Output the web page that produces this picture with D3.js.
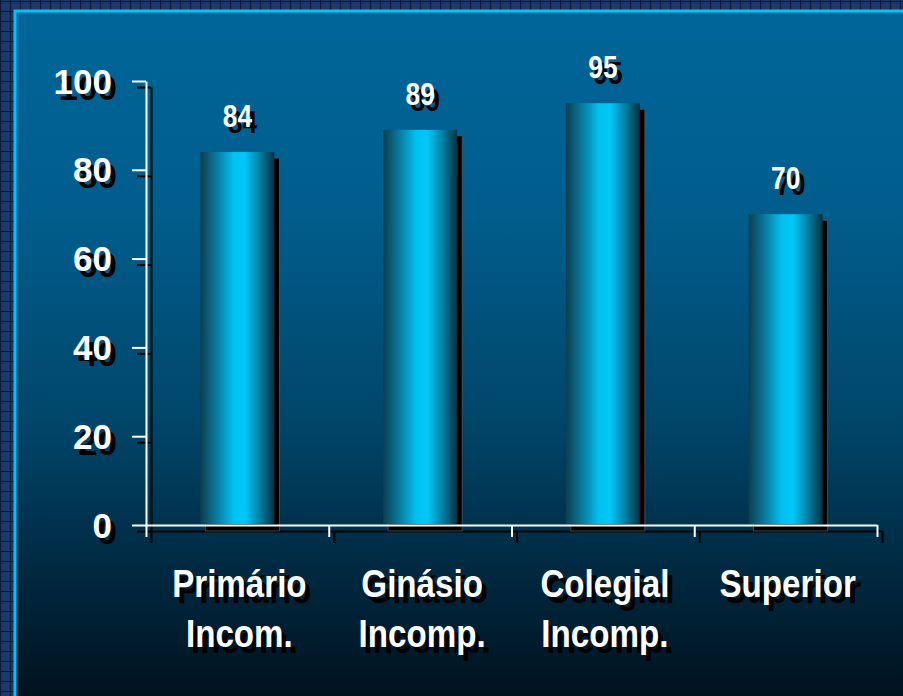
<!DOCTYPE html>
<html><head><meta charset="utf-8">
<script src="https://cdn.jsdelivr.net/npm/d3@7"></script>
<style>html,body{margin:0;padding:0;background:#0c1d3c;}svg{display:block;}</style>
</head><body>
<script>
const categories = [["Primário","Incom."],["Ginásio","Incomp."],["Colegial","Incomp."],["Superior"]];
const values = [84, 89, 95, 70];
const yTicks = [0, 20, 40, 60, 80, 100];

const W = 903, H = 696;
const svg = d3.select("body").append("svg").attr("width", W).attr("height", H);
const defs = svg.append("defs");

const pat = defs.append("pattern").attr("id","grid").attr("width",10).attr("height",10)
  .attr("patternUnits","userSpaceOnUse").attr("x",0).attr("y",1);
pat.append("rect").attr("width",10).attr("height",10).attr("fill","#1b3a6b");
pat.append("path").attr("d","M0,0.5H10M0.5,0V10").attr("stroke","#0a1733").attr("stroke-width",1.2);

const bg = defs.append("linearGradient").attr("id","bg").attr("x1",0).attr("y1",0).attr("x2",0).attr("y2",1);
[[0,"#00669a"],[0.3,"#005d8c"],[0.6,"#00466a"],[0.8,"#002b44"],[1,"#00121e"]]
  .forEach(([o,c])=>bg.append("stop").attr("offset",o).attr("stop-color",c));

const barG = defs.append("linearGradient").attr("id","bar").attr("x1",0).attr("y1",0).attr("x2",1).attr("y2",0);
[[0,"#0b3f4f"],[0.2,"#0a7598"],[0.45,"#00c2f0"],[0.6,"#00c8f8"],[0.8,"#0480a4"],[1,"#06303e"]]
  .forEach(([o,c])=>barG.append("stop").attr("offset",o).attr("stop-color",c));

const SX = 5, SY = 6;

svg.append("rect").attr("width",W).attr("height",H).attr("fill","url(#grid)");
svg.append("rect").attr("x",14).attr("y",10).attr("width",W-14).attr("height",H-10).attr("fill","url(#bg)");
svg.append("path").attr("d",`M15,${H}V11H${W}`).attr("fill","none").attr("stroke","#00c4f4").attr("stroke-width",3);

const x0 = 146, x1 = 877, yTop = 81, yBot = 525;
const x = d3.scaleBand().domain(d3.range(categories.length)).range([x0,x1]).paddingInner(0.595).paddingOuter(0.2975);
const xB = d3.scaleLinear().domain([0,categories.length]).range([x0,x1]);
const y = d3.scaleLinear().domain([0,100]).range([yBot,yTop]);

const font = "'Liberation Sans', Arial, sans-serif";

function drawAxes(g, color){
  const ya = d3.axisLeft(y).tickValues(yTicks).tickSize(14).tickSizeOuter(0).tickFormat("");
  const gy = g.append("g").attr("transform",`translate(${x0},0)`).call(ya);
  const xa = d3.axisBottom(xB).tickValues(d3.range(categories.length+1)).tickSize(12).tickSizeOuter(0).tickFormat("");
  const gx = g.append("g").attr("transform",`translate(0,${yBot})`).call(xa);
  [gy,gx].forEach(a=>{
    a.selectAll("path,line").attr("stroke",color).attr("stroke-width",2);
  });
}
drawAxes(svg.append("g").attr("transform",`translate(${SX},${SY})`), "#000");

svg.append("g").selectAll("rect").data(values).join("rect")
  .attr("x",(d,i)=>x(i)+SX).attr("y",d=>y(d)+SY)
  .attr("width",x.bandwidth()).attr("height",d=>yBot-y(d))
  .attr("fill","#000").attr("stroke","#555").attr("stroke-width",0.8);

drawAxes(svg.append("g"), "#fff");

svg.append("g").selectAll("rect").data(values).join("rect")
  .attr("x",(d,i)=>x(i)).attr("y",d=>y(d))
  .attr("width",x.bandwidth()).attr("height",d=>yBot-y(d)-1)
  .attr("fill","url(#bar)");

function label(g, xp, yp, txt, opts){
  [["#000",SX,SY],["#fff",0,0]].forEach(([c,dx,dy])=>{
    g.append("text").attr("transform",`translate(${xp+dx},${yp+dy}) scale(${opts.sx||1},1)`)
      .text(txt).attr("fill",c).attr("font-family",font).attr("font-weight","bold")
      .attr("font-size",opts.size).attr("text-anchor",opts.anchor).attr("dy",opts.dy||0);
  });
}

const labels = svg.append("g");
yTicks.forEach(t=> label(labels, 112, y(t), String(t), {size:35,anchor:"end",dy:"0.36em"}));
values.forEach((v,i)=> label(labels, x(i)+x.bandwidth()/2, y(v)-25, String(v), {size:31,anchor:"middle",sx:0.85}));
categories.forEach((lines,i)=>{
  const cx = x(i)+x.bandwidth()/2 + 2;
  lines.forEach((ln,j)=> label(labels, cx, 597+j*50, ln, {size:39,anchor:"middle",sx:0.85}));
});
</script>
</body></html>
